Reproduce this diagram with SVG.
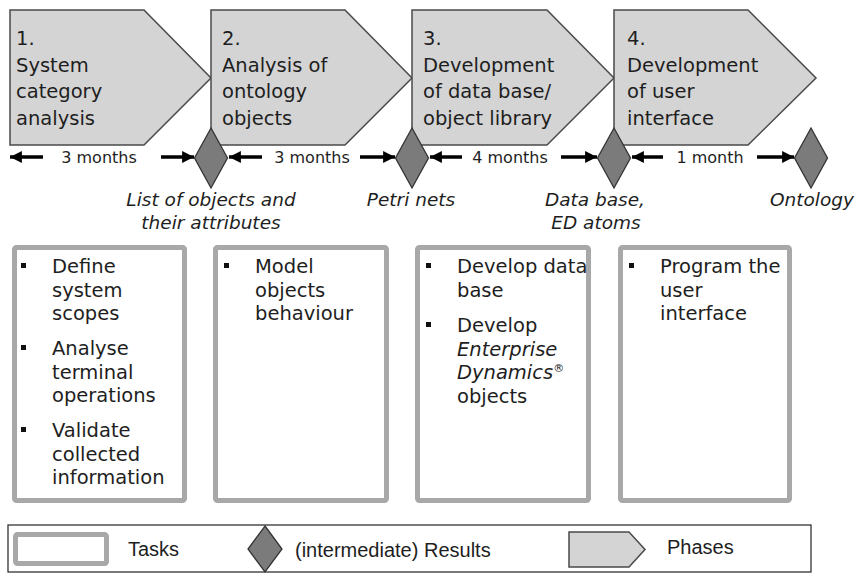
<svg xmlns="http://www.w3.org/2000/svg" width="860" height="574" viewBox="0 0 860 574">
<defs>
<style>
.phase{fill:#d4d4d4;stroke:#4a4a4a;stroke-width:1.5}
.res{fill:#7b7b7b;stroke:#333;stroke-width:1.3}
.task{fill:#fff;stroke:#a8a8a8;stroke-width:5}
.pt{font-family:"DejaVu Sans",sans-serif;font-size:19.5px;fill:#1e1e1e}
.mt{font-family:"DejaVu Sans",sans-serif;font-size:16px;fill:#1e1e1e;text-anchor:middle}
.rt{font-family:"DejaVu Sans",sans-serif;font-size:18.5px;font-style:italic;fill:#1e1e1e;text-anchor:middle}
.tt{font-family:"DejaVu Sans",sans-serif;font-size:19.5px;fill:#1e1e1e}
.lt{font-family:"Liberation Sans",Arial,sans-serif;font-size:20px;fill:#1e1e1e}
.arr{stroke:#000;stroke-width:3.5;fill:none;marker-end:url(#ah)}
.bul{fill:#111}
</style>
<marker id="ah" viewBox="0 0 10 10" refX="10" refY="5" markerWidth="3.4" markerHeight="3.4" orient="auto" markerUnits="strokeWidth">
<path d="M0,0 L10,5 L0,10 z" fill="#000"/>
</marker>
</defs>
<rect width="860" height="574" fill="#fff"/>

<g id="phase1">
<path class="phase" d="M10,10 H144 L211,78 L144,145 H10 Z"/>
<text class="pt"><tspan x="16" y="45">1.</tspan><tspan x="16" y="71.5">System</tspan><tspan x="16" y="98">category</tspan><tspan x="16" y="124.5">analysis</tspan></text>
</g>
<g id="phase2">
<path class="phase" d="M211,10 H345 L412,78 L345,145 H211 Z"/>
<text class="pt"><tspan x="222" y="45">2.</tspan><tspan x="222" y="71.5">Analysis of</tspan><tspan x="222" y="98">ontology</tspan><tspan x="222" y="124.5">objects</tspan></text>
</g>
<g id="phase3">
<path class="phase" d="M412,10 H547 L614,78 L547,145 H412 Z"/>
<text class="pt"><tspan x="423" y="45">3.</tspan><tspan x="423" y="71.5">Development</tspan><tspan x="423" y="98">of data base/</tspan><tspan x="423" y="124.5">object library</tspan></text>
</g>
<g id="phase4">
<path class="phase" d="M614,10 H748 L816,78 L748,145 H614 Z"/>
<text class="pt"><tspan x="627" y="45">4.</tspan><tspan x="627" y="71.5">Development</tspan><tspan x="627" y="98">of user</tspan><tspan x="627" y="124.5">interface</tspan></text>
</g>

<g id="result1">
<path class="res" d="M211,128 L227.5,158 L211,188 L194.5,158 Z"/>
<text class="rt"><tspan x="211" y="206">List of objects and</tspan><tspan x="211" y="229">their attributes</tspan></text>
</g>
<g id="result2">
<path class="res" d="M412,128 L428.5,158 L412,188 L395.5,158 Z"/>
<text class="rt" x="411" y="206">Petri nets</text>
</g>
<g id="result3">
<path class="res" d="M614,128 L630.5,158 L614,188 L597.5,158 Z"/>
<text class="rt"><tspan x="595" y="206">Data base,</tspan><tspan x="596" y="229">ED atoms</tspan></text>
</g>
<g id="result4">
<path class="res" d="M811,128 L827.5,158 L811,188 L794.5,158 Z"/>
<text class="rt" x="812" y="206">Ontology</text>
</g>

<g id="connectors">
<line class="arr" x1="43" y1="157" x2="10" y2="157"/>
<line class="arr" x1="161" y1="157" x2="194" y2="157"/>
<line class="arr" x1="262" y1="157" x2="229" y2="157"/>
<line class="arr" x1="360" y1="157" x2="395" y2="157"/>
<line class="arr" x1="462" y1="157" x2="430" y2="157"/>
<line class="arr" x1="561" y1="157" x2="597" y2="157"/>
<line class="arr" x1="663" y1="157" x2="632" y2="157"/>
<line class="arr" x1="757" y1="157" x2="794" y2="157"/>
<text class="mt" x="99" y="163">3 months</text>
<text class="mt" x="312" y="163">3 months</text>
<text class="mt" x="510" y="163">4 months</text>
<text class="mt" x="710" y="163">1 month</text>
</g>

<g id="tasks1">
<rect class="task" x="14.5" y="247.5" width="170" height="253" rx="2"/>
<rect class="bul" x="21" y="263" width="5" height="5"/>
<rect class="bul" x="21" y="345" width="5" height="5"/>
<rect class="bul" x="21" y="427" width="5" height="5"/>
<text class="tt"><tspan x="52" y="273">Define</tspan><tspan x="52" y="296.5">system</tspan><tspan x="52" y="320">scopes</tspan><tspan x="52" y="355">Analyse</tspan><tspan x="52" y="378.5">terminal</tspan><tspan x="52" y="402">operations</tspan><tspan x="52" y="437">Validate</tspan><tspan x="52" y="460.5">collected</tspan><tspan x="52" y="484">information</tspan></text>
</g>
<g id="tasks2">
<rect class="task" x="215.5" y="247.5" width="171" height="253" rx="2"/>
<rect class="bul" x="224" y="263" width="5" height="5"/>
<text class="tt"><tspan x="255" y="273">Model</tspan><tspan x="255" y="296.5">objects</tspan><tspan x="255" y="320">behaviour</tspan></text>
</g>
<g id="tasks3">
<rect class="task" x="417.5" y="247.5" width="171" height="253" rx="2"/>
<rect class="bul" x="426" y="263" width="5" height="5"/>
<rect class="bul" x="426" y="322" width="5" height="5"/>
<text class="tt"><tspan x="457" y="273">Develop data</tspan><tspan x="457" y="296.5">base</tspan><tspan x="457" y="332">Develop</tspan><tspan x="457" y="355.5" font-style="italic">Enterprise</tspan><tspan x="457" y="379" font-style="italic">Dynamics</tspan><tspan font-size="11px" dy="-7">®</tspan><tspan x="457" y="402.5">objects</tspan></text>
</g>
<g id="tasks4">
<rect class="task" x="620.5" y="247.5" width="169" height="253" rx="2"/>
<rect class="bul" x="629" y="263" width="5" height="5"/>
<text class="tt"><tspan x="660" y="273">Program the</tspan><tspan x="660" y="296.5">user</tspan><tspan x="660" y="320">interface</tspan></text>
</g>

<g id="legend">
<rect x="8" y="525" width="803" height="47" fill="#fff" stroke="#333" stroke-width="1.3"/>
<rect class="task" x="15.5" y="534.5" width="91" height="29" rx="2"/>
<text class="lt" x="128" y="556">Tasks</text>
<path class="res" d="M265,526 L282,549 L265,572 L248,549 Z"/>
<text class="lt" x="295" y="557">(intermediate) Results</text>
<path class="phase" d="M569,532 H629 L645,549.5 L629,567 H569 Z"/>
<text class="lt" x="667" y="554">Phases</text>
</g>
</svg>
